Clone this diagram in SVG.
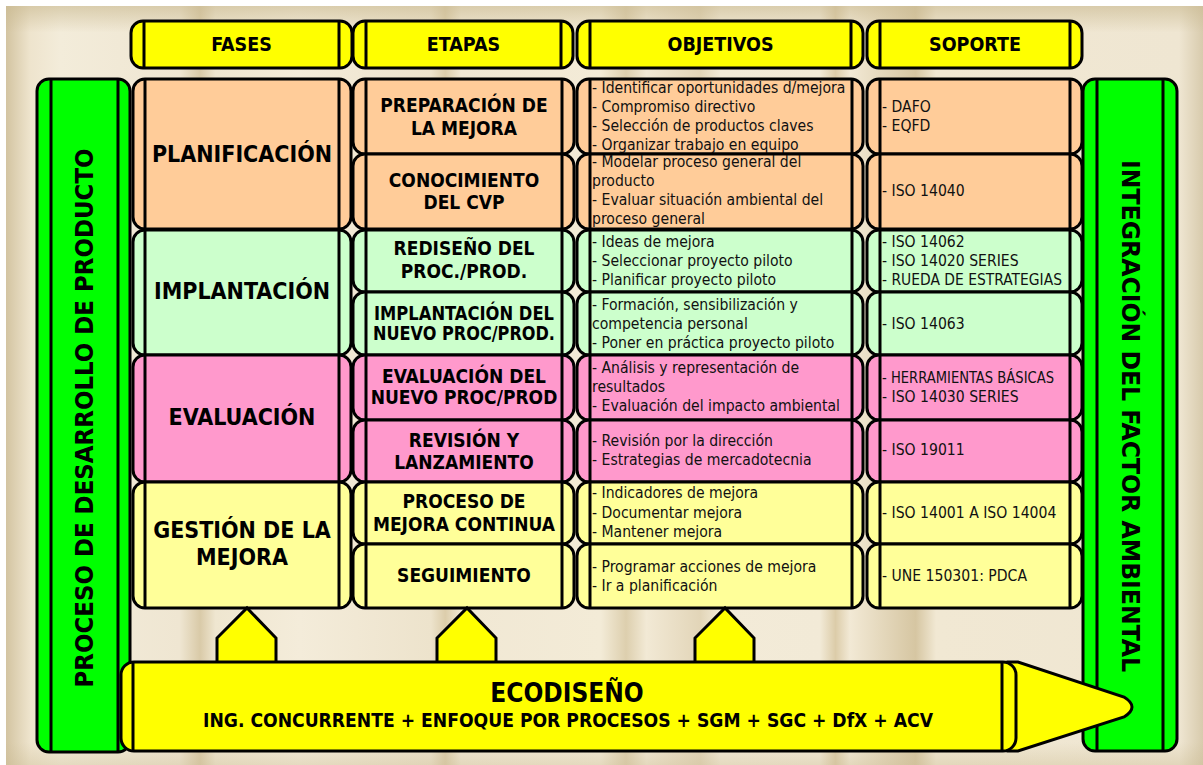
<svg xmlns="http://www.w3.org/2000/svg" width="1203" height="765" viewBox="0 0 1203 765">
<defs>
<linearGradient id="bgH" gradientUnits="userSpaceOnUse" x1="6" y1="0" x2="1203" y2="0">
<stop offset="0" stop-color="#D3C4A1"/>
<stop offset="0.02" stop-color="#EEE4CD"/>
<stop offset="0.045" stop-color="#F3ECDA"/>
<stop offset="0.145" stop-color="#EFE6D2"/>
<stop offset="0.162" stop-color="#D9CAA8"/>
<stop offset="0.175" stop-color="#EFE6D0"/>
<stop offset="0.245" stop-color="#F4ECDA"/>
<stop offset="0.355" stop-color="#EDE3CC"/>
<stop offset="0.367" stop-color="#DCCDAB"/>
<stop offset="0.38" stop-color="#F1E8D4"/>
<stop offset="0.497" stop-color="#F3EBD7"/>
<stop offset="0.518" stop-color="#DDCFAE"/>
<stop offset="0.535" stop-color="#F2E9D5"/>
<stop offset="0.58" stop-color="#E2D5B8"/>
<stop offset="0.597" stop-color="#F3EBD8"/>
<stop offset="0.68" stop-color="#F2EAD7"/>
<stop offset="0.693" stop-color="#DCCCA9"/>
<stop offset="0.705" stop-color="#F2E9D5"/>
<stop offset="0.76" stop-color="#D6C6A2"/>
<stop offset="0.777" stop-color="#F1E8D3"/>
<stop offset="0.98" stop-color="#EFE6D2"/>
<stop offset="1" stop-color="#D8CBAD"/>
</linearGradient>
<linearGradient id="bgV" gradientUnits="userSpaceOnUse" x1="0" y1="6" x2="0" y2="765">
<stop offset="0" stop-color="#C9B990" stop-opacity="0.6"/>
<stop offset="0.035" stop-color="#C9B990" stop-opacity="0"/>
<stop offset="0.97" stop-color="#C9B990" stop-opacity="0"/>
<stop offset="1" stop-color="#C9B990" stop-opacity="0.35"/>
</linearGradient>
</defs>
<style>
.cell{stroke:#000;stroke-width:3}
.ln{stroke:#000;stroke-width:3}
.hd{fill:#FFFF00}
.pk{fill:#FFCC99}
.gr{fill:#CCFFCC}
.pi{fill:#FF99CC}
.ye{fill:#FFFF99}
.gb{fill:#00FF00}
text{font-family:"DejaVu Sans Condensed","DejaVu Sans",sans-serif;font-stretch:condensed;fill:#000}
.th{font-weight:bold;font-size:19.5px;text-anchor:middle}
.tf{font-weight:bold;font-size:23px;text-anchor:middle}
.te{font-weight:bold;font-size:19px;text-anchor:middle}
.to{font-size:15.6px;fill:#111}
.tg{font-weight:bold;font-size:25.5px;text-anchor:middle}
.tp1{font-weight:bold;font-size:26px;text-anchor:middle}
.tp2{font-weight:bold;font-size:19.2px;text-anchor:middle}
</style>
<rect x="0" y="0" width="1203" height="765" fill="#FFFFFF"/>
<rect x="6" y="6" width="1197" height="759" fill="url(#bgH)"/>
<rect x="6" y="6" width="1197" height="759" fill="url(#bgV)"/>

<!-- Headers -->
<g id="hdr-fases">
<rect class="cell hd" x="131" y="21" width="221" height="47" rx="12"/>
<line class="ln" x1="144" y1="21" x2="144" y2="68"/><line class="ln" x1="339" y1="21" x2="339" y2="68"/>
<text class="th" x="241.5" y="51">FASES</text>
</g>
<g id="hdr-etapas">
<rect class="cell hd" x="353" y="21" width="220" height="47" rx="12"/>
<line class="ln" x1="366" y1="21" x2="366" y2="68"/><line class="ln" x1="561" y1="21" x2="561" y2="68"/>
<text class="th" x="463.5" y="51">ETAPAS</text>
</g>
<g id="hdr-objetivos">
<rect class="cell hd" x="577" y="21" width="286" height="47" rx="12"/>
<line class="ln" x1="590" y1="21" x2="590" y2="68"/><line class="ln" x1="851" y1="21" x2="851" y2="68"/>
<text class="th" x="720.5" y="51">OBJETIVOS</text>
</g>
<g id="hdr-soporte">
<rect class="cell hd" x="867" y="21" width="215" height="47" rx="12"/>
<line class="ln" x1="880" y1="21" x2="880" y2="68"/><line class="ln" x1="1070" y1="21" x2="1070" y2="68"/>
<text class="th" x="975" y="51">SOPORTE</text>
</g>

<!-- Green side bars -->
<g id="proceso-desarrollo">
<rect class="cell gb" x="37" y="79" width="93" height="673" rx="12"/>
<line class="ln" x1="51" y1="79" x2="51" y2="752"/><line class="ln" x1="118" y1="79" x2="118" y2="752"/>
<text class="tg" transform="translate(93,418) rotate(-90)">PROCESO DE DESARROLLO DE PRODUCTO</text>
</g>
<g id="integracion-ambiental">
<rect class="cell gb" x="1083" y="79" width="94" height="672" rx="12"/>
<line class="ln" x1="1097" y1="79" x2="1097" y2="751"/><line class="ln" x1="1163" y1="79" x2="1163" y2="751"/>
<text class="tg" transform="translate(1122,416) rotate(90)" textLength="512" lengthAdjust="spacingAndGlyphs">INTEGRACIÓN DEL FACTOR AMBIENTAL</text>
</g>

<!-- Phases -->
<g id="fase-planificacion">
<rect class="cell pk" x="133" y="79" width="218" height="150" rx="12"/>
<line class="ln" x1="145" y1="79" x2="145" y2="229"/><line class="ln" x1="339" y1="79" x2="339" y2="229"/>
<text class="tf" x="242" y="162">PLANIFICACIÓN</text>
</g>
<g id="fase-implantacion">
<rect class="cell gr" x="133" y="230" width="218" height="125" rx="12"/>
<line class="ln" x1="145" y1="230" x2="145" y2="355"/><line class="ln" x1="339" y1="230" x2="339" y2="355"/>
<text class="tf" x="242" y="299">IMPLANTACIÓN</text>
</g>
<g id="fase-evaluacion">
<rect class="cell pi" x="133" y="355" width="218" height="127" rx="12"/>
<line class="ln" x1="145" y1="355" x2="145" y2="482"/><line class="ln" x1="339" y1="355" x2="339" y2="482"/>
<text class="tf" x="242" y="425">EVALUACIÓN</text>
</g>
<g id="fase-gestion">
<rect class="cell ye" x="133" y="482" width="218" height="126" rx="12"/>
<line class="ln" x1="145" y1="482" x2="145" y2="608"/><line class="ln" x1="339" y1="482" x2="339" y2="608"/>
<text class="tf" x="242" y="538">GESTIÓN DE LA</text>
<text class="tf" x="242" y="565">MEJORA</text>
</g>

<!-- Etapas -->
<g id="etapa-preparacion">
<rect class="cell pk" x="353" y="79" width="221" height="75" rx="12"/>
<line class="ln" x1="366" y1="79" x2="366" y2="154"/><line class="ln" x1="562" y1="79" x2="562" y2="154"/>
<text class="te" x="464" y="112">PREPARACIÓN DE</text>
<text class="te" x="464" y="135">LA MEJORA</text>
</g>
<g id="etapa-conocimiento">
<rect class="cell pk" x="353" y="154" width="221" height="75" rx="12"/>
<line class="ln" x1="366" y1="154" x2="366" y2="229"/><line class="ln" x1="562" y1="154" x2="562" y2="229"/>
<text class="te" x="464" y="187">CONOCIMIENTO</text>
<text class="te" x="464" y="209">DEL CVP</text>
</g>
<g id="etapa-rediseno">
<rect class="cell gr" x="353" y="230" width="221" height="62" rx="12"/>
<line class="ln" x1="366" y1="230" x2="366" y2="292"/><line class="ln" x1="562" y1="230" x2="562" y2="292"/>
<text class="te" x="464" y="255">REDISEÑO DEL</text>
<text class="te" x="464" y="278">PROC./PROD.</text>
</g>
<g id="etapa-implantacion">
<rect class="cell gr" x="353" y="292" width="221" height="63" rx="12"/>
<line class="ln" x1="366" y1="292" x2="366" y2="355"/><line class="ln" x1="562" y1="292" x2="562" y2="355"/>
<text class="te" x="464" y="320" textLength="180" lengthAdjust="spacingAndGlyphs">IMPLANTACIÓN DEL</text>
<text class="te" x="464" y="340" textLength="182" lengthAdjust="spacingAndGlyphs">NUEVO PROC/PROD.</text>
</g>
<g id="etapa-evaluacion">
<rect class="cell pi" x="353" y="355" width="221" height="65" rx="12"/>
<line class="ln" x1="366" y1="355" x2="366" y2="420"/><line class="ln" x1="562" y1="355" x2="562" y2="420"/>
<text class="te" x="464" y="383">EVALUACIÓN DEL</text>
<text class="te" x="464" y="404">NUEVO PROC/PROD</text>
</g>
<g id="etapa-revision">
<rect class="cell pi" x="353" y="420" width="221" height="62" rx="12"/>
<line class="ln" x1="366" y1="420" x2="366" y2="482"/><line class="ln" x1="562" y1="420" x2="562" y2="482"/>
<text class="te" x="464" y="447">REVISIÓN Y</text>
<text class="te" x="464" y="469">LANZAMIENTO</text>
</g>
<g id="etapa-mejora-continua">
<rect class="cell ye" x="353" y="482" width="221" height="62" rx="12"/>
<line class="ln" x1="366" y1="482" x2="366" y2="544"/><line class="ln" x1="562" y1="482" x2="562" y2="544"/>
<text class="te" x="464" y="508">PROCESO DE</text>
<text class="te" x="464" y="531">MEJORA CONTINUA</text>
</g>
<g id="etapa-seguimiento">
<rect class="cell ye" x="353" y="544" width="221" height="64" rx="12"/>
<line class="ln" x1="366" y1="544" x2="366" y2="608"/><line class="ln" x1="562" y1="544" x2="562" y2="608"/>
<text class="te" x="464" y="582">SEGUIMIENTO</text>
</g>

<!-- Objetivos -->
<g id="obj-1">
<rect class="cell pk" x="577" y="79" width="286" height="75" rx="12"/>
<line class="ln" x1="590" y1="79" x2="590" y2="154"/><line class="ln" x1="852" y1="79" x2="852" y2="154"/>
<text class="to" x="592" y="93">- Identificar oportunidades d/mejora</text>
<text class="to" x="592" y="112">- Compromiso directivo</text>
<text class="to" x="592" y="131">- Selección de productos claves</text>
<text class="to" x="592" y="150">- Organizar trabajo en equipo</text>
</g>
<g id="obj-2">
<rect class="cell pk" x="577" y="154" width="286" height="75" rx="12"/>
<line class="ln" x1="590" y1="154" x2="590" y2="229"/><line class="ln" x1="852" y1="154" x2="852" y2="229"/>
<text class="to" x="592" y="167">- Modelar proceso general del</text>
<text class="to" x="592" y="186">producto</text>
<text class="to" x="592" y="205">- Evaluar situación ambiental del</text>
<text class="to" x="592" y="224">proceso general</text>
</g>
<g id="obj-3">
<rect class="cell gr" x="577" y="230" width="286" height="62" rx="12"/>
<line class="ln" x1="590" y1="230" x2="590" y2="292"/><line class="ln" x1="852" y1="230" x2="852" y2="292"/>
<text class="to" x="592" y="247">- Ideas de mejora</text>
<text class="to" x="592" y="266">- Seleccionar proyecto piloto</text>
<text class="to" x="592" y="285">- Planificar proyecto piloto</text>
</g>
<g id="obj-4">
<rect class="cell gr" x="577" y="292" width="286" height="63" rx="12"/>
<line class="ln" x1="590" y1="292" x2="590" y2="355"/><line class="ln" x1="852" y1="292" x2="852" y2="355"/>
<text class="to" x="592" y="310">- Formación, sensibilización y</text>
<text class="to" x="592" y="329">competencia personal</text>
<text class="to" x="592" y="348">- Poner en práctica proyecto piloto</text>
</g>
<g id="obj-5">
<rect class="cell pi" x="577" y="355" width="286" height="65" rx="12"/>
<line class="ln" x1="590" y1="355" x2="590" y2="420"/><line class="ln" x1="852" y1="355" x2="852" y2="420"/>
<text class="to" x="592" y="373">- Análisis y representación de</text>
<text class="to" x="592" y="392">resultados</text>
<text class="to" x="592" y="411">- Evaluación del impacto ambiental</text>
</g>
<g id="obj-6">
<rect class="cell pi" x="577" y="420" width="286" height="62" rx="12"/>
<line class="ln" x1="590" y1="420" x2="590" y2="482"/><line class="ln" x1="852" y1="420" x2="852" y2="482"/>
<text class="to" x="592" y="446">- Revisión por la dirección</text>
<text class="to" x="592" y="465">- Estrategias de mercadotecnia</text>
</g>
<g id="obj-7">
<rect class="cell ye" x="577" y="482" width="286" height="62" rx="12"/>
<line class="ln" x1="590" y1="482" x2="590" y2="544"/><line class="ln" x1="852" y1="482" x2="852" y2="544"/>
<text class="to" x="592" y="498">- Indicadores de mejora</text>
<text class="to" x="592" y="518">- Documentar mejora</text>
<text class="to" x="592" y="537">- Mantener mejora</text>
</g>
<g id="obj-8">
<rect class="cell ye" x="577" y="544" width="286" height="64" rx="12"/>
<line class="ln" x1="590" y1="544" x2="590" y2="608"/><line class="ln" x1="852" y1="544" x2="852" y2="608"/>
<text class="to" x="592" y="572">- Programar acciones de mejora</text>
<text class="to" x="592" y="591">- Ir a planificación</text>
</g>

<!-- Soporte -->
<g id="sop-1">
<rect class="cell pk" x="867" y="79" width="215" height="75" rx="12"/>
<line class="ln" x1="880" y1="79" x2="880" y2="154"/><line class="ln" x1="1070" y1="79" x2="1070" y2="154"/>
<text class="to" x="882" y="112">- DAFO</text>
<text class="to" x="882" y="131">- EQFD</text>
</g>
<g id="sop-2">
<rect class="cell pk" x="867" y="154" width="215" height="75" rx="12"/>
<line class="ln" x1="880" y1="154" x2="880" y2="229"/><line class="ln" x1="1070" y1="154" x2="1070" y2="229"/>
<text class="to" x="882" y="196">- ISO 14040</text>
</g>
<g id="sop-3">
<rect class="cell gr" x="867" y="230" width="215" height="62" rx="12"/>
<line class="ln" x1="880" y1="230" x2="880" y2="292"/><line class="ln" x1="1070" y1="230" x2="1070" y2="292"/>
<text class="to" x="882" y="247">- ISO 14062</text>
<text class="to" x="882" y="266">- ISO 14020 SERIES</text>
<text class="to" x="882" y="285" textLength="180" lengthAdjust="spacingAndGlyphs">- RUEDA DE ESTRATEGIAS</text>
</g>
<g id="sop-4">
<rect class="cell gr" x="867" y="292" width="215" height="63" rx="12"/>
<line class="ln" x1="880" y1="292" x2="880" y2="355"/><line class="ln" x1="1070" y1="292" x2="1070" y2="355"/>
<text class="to" x="882" y="329">- ISO 14063</text>
</g>
<g id="sop-5">
<rect class="cell pi" x="867" y="355" width="215" height="65" rx="12"/>
<line class="ln" x1="880" y1="355" x2="880" y2="420"/><line class="ln" x1="1070" y1="355" x2="1070" y2="420"/>
<text class="to" x="882" y="383" textLength="172" lengthAdjust="spacingAndGlyphs">- HERRAMIENTAS BÁSICAS</text>
<text class="to" x="882" y="402">- ISO 14030 SERIES</text>
</g>
<g id="sop-6">
<rect class="cell pi" x="867" y="420" width="215" height="62" rx="12"/>
<line class="ln" x1="880" y1="420" x2="880" y2="482"/><line class="ln" x1="1070" y1="420" x2="1070" y2="482"/>
<text class="to" x="882" y="455">- ISO 19011</text>
</g>
<g id="sop-7">
<rect class="cell ye" x="867" y="482" width="215" height="62" rx="12"/>
<line class="ln" x1="880" y1="482" x2="880" y2="544"/><line class="ln" x1="1070" y1="482" x2="1070" y2="544"/>
<text class="to" x="882" y="518">- ISO 14001 A ISO 14004</text>
</g>
<g id="sop-8">
<rect class="cell ye" x="867" y="544" width="215" height="64" rx="12"/>
<line class="ln" x1="880" y1="544" x2="880" y2="608"/><line class="ln" x1="1070" y1="544" x2="1070" y2="608"/>
<text class="to" x="882" y="581">- UNE 150301: PDCA</text>
</g>

<!-- Up arrows from Ecodiseño -->
<g id="connectors" fill="#FFFF00" stroke="#000" stroke-width="3" stroke-linejoin="miter">
<path d="M217,664 L217,638 L247,608 L276,638 L276,664"/>
<path d="M437,664 L437,638 L467,608 L496,638 L496,664"/>
<path d="M695,664 L695,638 L725,608 L754,638 L754,664"/>
</g>

<!-- Ecodiseño pencil -->
<g id="ecodiseno">
<path class="cell hd" d="M1008,662 L1018,662 L1124,697 Q1140,707 1124,717 L1018,751 L1008,751 Z"/>
<rect class="cell hd" x="121" y="662" width="895" height="89" rx="13"/>
<line class="ln" x1="133" y1="662" x2="133" y2="751"/>
<line class="ln" x1="1002" y1="662" x2="1002" y2="751"/>
<text class="tp1" x="567" y="702">ECODISEÑO</text>
<text class="tp2" x="568" y="727" textLength="730" lengthAdjust="spacingAndGlyphs">ING. CONCURRENTE + ENFOQUE POR PROCESOS + SGM + SGC + DfX + ACV</text>
</g>
</svg>
